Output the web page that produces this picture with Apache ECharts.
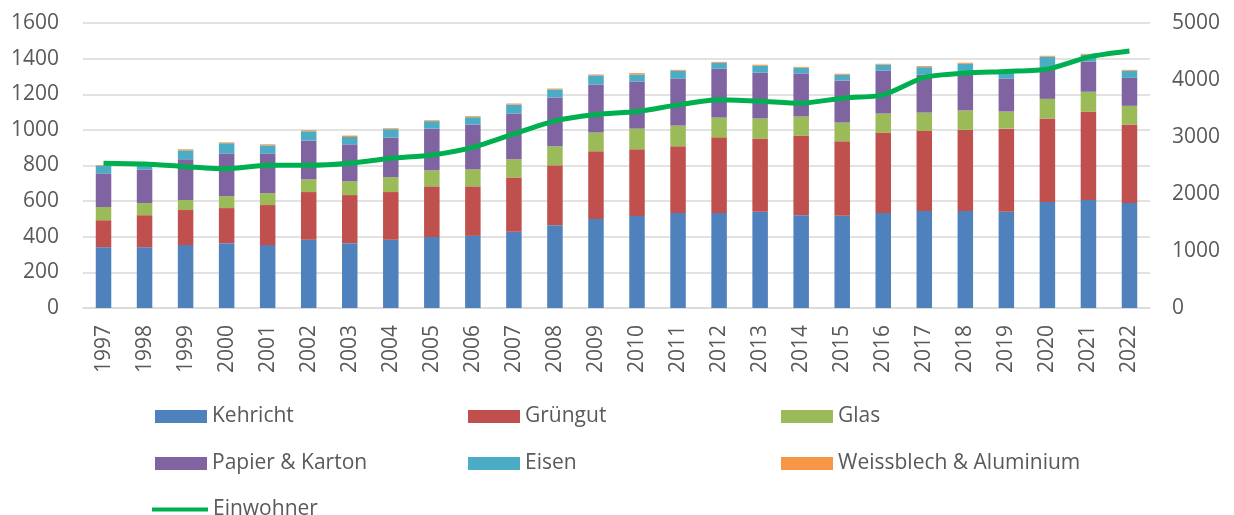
<!DOCTYPE html>
<html>
<head>
<meta charset="utf-8">
<script src="https://cdn.jsdelivr.net/npm/echarts@6/dist/echarts.min.js"></script>
<style>
html,body{margin:0;padding:0;background:#fff;}
#chart{width:1234px;height:515px;}
</style>
</head>
<body>
<div id="chart"></div>
<script>
const years = ['1997','1998','1999','2000','2001','2002','2003','2004','2005','2006','2007','2008','2009','2010','2011','2012','2013','2014','2015','2016','2017','2018','2019','2020','2021','2022'];
const kehricht = [341,341,353,364,353,383,364,383,398,405,428,465,499,516,533,533,540,521,518,533,544,544,540,595,606,589];
const gruengut = [152,180,197,197,225,268,270,268,285,278,305,336,381,375,375,425,411,447,418,452,452,456,467,469,497,441];
const glas = [74,68,56,67,67,71,77,84,90,95,102,107,105,116,116,111,113,107,105,107,101,109,96,110,111,105];
const papier = [189,189,229,240,223,218,208,222,234,252,257,274,270,265,265,274,257,242,236,240,212,210,186,173,170,157];
const eisen = [43,30,50,57,45,52,41,47,42,41,50,45,51,39,43,34,39,32,32,34,43,52,30,64,38,40];
const weissblech = [4,8,6,5,6,6,8,5,5,6,6,5,5,8,5,5,6,5,6,5,6,6,4,5,5,5];
const einwohner = [2540,2526,2480,2444,2503,2503,2538,2626,2685,2819,3054,3283,3394,3447,3564,3652,3628,3593,3681,3740,4045,4121,4150,4191,4402,4507];

const names = ['Kehricht','Grüngut','Glas','Papier & Karton','Eisen','Weissblech & Aluminium','Einwohner'];
const colors = ['#4F81BD','#C0504D','#9BBB59','#8064A2','#4BACC6','#F79646','#00B050'];
const barData = [kehricht, gruengut, glas, papier, eisen, weissblech];

const FONT = '"Open Sans", sans-serif';
const TXT = '#595959';

const legendPos = [
  [155, 406], [468, 406], [781, 406],
  [155, 453], [468, 453], [781, 453],
  [152, 499]
];

const legends = names.map((n, i) => ({
  data: [n],
  left: legendPos[i][0],
  top: legendPos[i][1],
  padding: 0,
  orient: 'horizontal',
  itemWidth: i === 6 ? 56 : 52,
  itemHeight: i === 6 ? 4 : 13,
  icon: 'rect',
  selectedMode: false,
  textStyle: { fontFamily: FONT, fontSize: 21, color: TXT, padding: [0, 0, 0, 0] }
}));

const series = barData.map((d, i) => ({
  name: names[i],
  type: 'bar',
  stack: 'total',
  yAxisIndex: 0,
  barWidth: 15.5,
  itemStyle: { color: colors[i] },
  data: d
}));
series.push({
  name: 'Einwohner',
  type: 'line',
  yAxisIndex: 1,
  data: einwohner,
  showSymbol: false,
  symbol: 'none',
  smooth: 0.25,
  z: 10,
  lineStyle: { color: colors[6], width: 5 },
  itemStyle: { color: colors[6] }
});

const plain = v => String(v);

const chart = echarts.init(document.getElementById('chart'), null, { renderer: 'canvas' });
chart.setOption({
  animation: false,
  color: colors,
  legend: legends,
  grid: { left: 83, right: 84, top: 23, bottom: 207, containLabel: false },
  xAxis: {
    type: 'category',
    data: years,
    axisLine: { lineStyle: { color: '#D9D9D9', width: 1.5 } },
    axisTick: { show: false },
    axisLabel: { rotate: 90, margin: 17, fontFamily: FONT, fontSize: 21, color: TXT, interval: 0 }
  },
  yAxis: [
    {
      type: 'value', min: 0, max: 1600, interval: 200,
      axisLine: { show: false }, axisTick: { show: false },
      splitLine: { lineStyle: { color: '#D9D9D9', width: 1.5 } },
      axisLabel: { margin: 24, fontFamily: FONT, fontSize: 21, color: TXT, formatter: plain }
    },
    {
      type: 'value', min: 0, max: 5000, interval: 1000,
      axisLine: { show: false }, axisTick: { show: false },
      splitLine: { show: false },
      axisLabel: { margin: 22, fontFamily: FONT, fontSize: 21, color: TXT, formatter: plain }
    }
  ],
  series: series
});
</script>
</body>
</html>
